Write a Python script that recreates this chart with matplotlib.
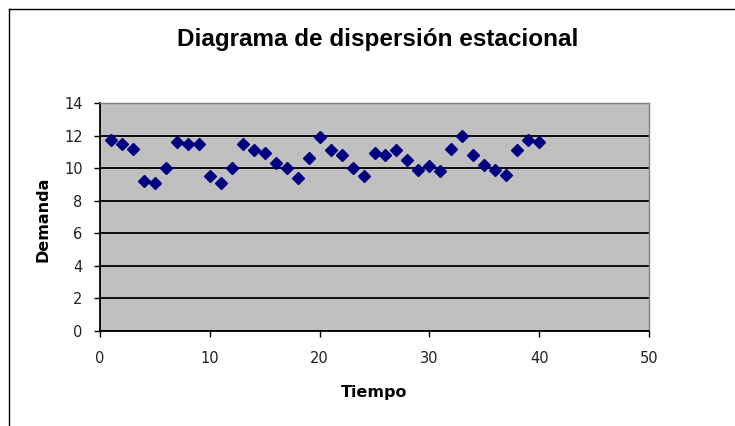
import numpy as np
import matplotlib; matplotlib.use('Agg')
import matplotlib.pyplot as plt
from matplotlib.lines import Line2D

plt.rcParams['font.family'] = ['Liberation Sans', 'DejaVu Sans']

# periodo y demanda observada
tiempo = list(range(1, 41))
demanda = [11.7, 11.5, 11.2, 9.2, 9.1, 10.0, 11.6, 11.5, 11.5, 9.5,
           9.1, 10.0, 11.5, 11.1, 10.9, 10.3, 10.0, 9.4, 10.6, 11.9,
           11.1, 10.8, 10.0, 9.5, 10.9, 10.8, 11.1, 10.5, 9.9, 10.1,
           9.8, 11.2, 12.0, 10.8, 10.2, 9.9, 9.6, 11.1, 11.7, 11.6]

xticks = [0, 10, 20, 30, 40, 50]
yticks = [0, 2, 4, 6, 8, 10, 12, 14]

fig = plt.figure(figsize=(7.35, 4.26), dpi=100)
W, H = 735.0, 426.0
ax = fig.add_axes([100 / W, 1 - 330.7 / H, (649 - 100) / W, (330.7 - 103) / H])
ax.set_facecolor('#c0c0c0')

ax.plot(tiempo, demanda, linestyle='none', marker='D', markersize=6.3,
        color='#000080', zorder=3)

ax.set_xlim(0, 50)
ax.set_ylim(0, 14)
ax.set_xticks(xticks)
ax.set_yticks(yticks)
ax.yaxis.grid(True, color='black', linewidth=1.3)
ax.set_axisbelow(True)

for s in ['left', 'bottom']:
    ax.spines[s].set_color('black')
    ax.spines[s].set_linewidth(1.3)
for s in ['top', 'right']:
    ax.spines[s].set_color('#808080')
    ax.spines[s].set_linewidth(1.0)

ax.tick_params(axis='both', direction='out', length=4.5, width=1.0,
               colors='black', labelsize=10.5, labelcolor='#222222',
               labelfontfamily='DejaVu Sans')
ax.tick_params(axis='x', pad=10)
ax.tick_params(axis='y', pad=8)

fig.text(378 / W, 1 - 46 / H, 'Diagrama de dispersión estacional',
         ha='center', va='baseline', fontsize=17.5, fontweight='bold')
fig.text(374 / W, 1 - 396.7 / H, 'Tiempo', ha='center', va='baseline',
         fontsize=11.5, fontweight='bold', family='DejaVu Sans')
fig.text(43 / W, 1 - 219 / H, 'Demanda', ha='center', va='center',
         rotation=90, fontsize=11.5, fontweight='bold', family='DejaVu Sans')

# marco del grafico
fig.add_artist(Line2D([8.5 / W, 8.5 / W], [0, 1 - 9 / H], color='black', linewidth=1.0))
fig.add_artist(Line2D([8.5 / W, 1], [1 - 9 / H, 1 - 9 / H], color='black', linewidth=1.0))

plt.savefig('out.png', dpi=100)
